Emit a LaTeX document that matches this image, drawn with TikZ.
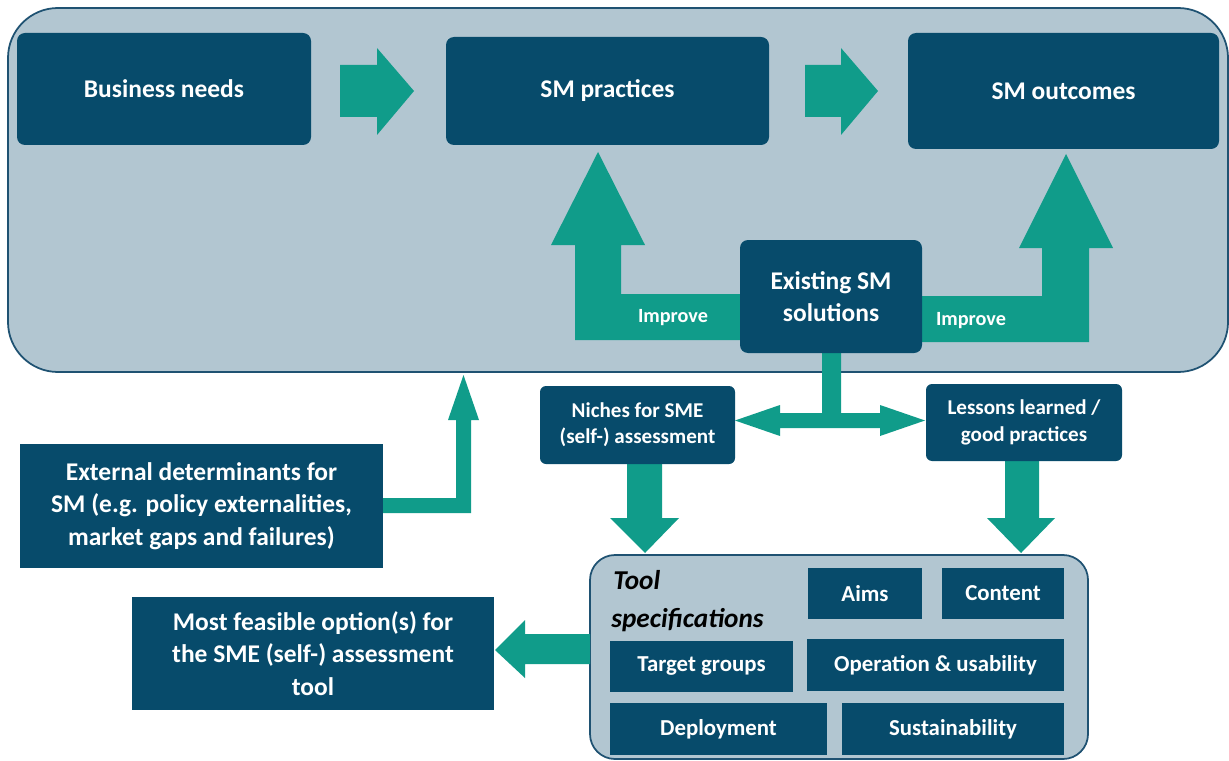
\documentclass[tikz,border=0pt]{standalone}
\usepackage{fontspec}
\setmainfont{Carlito}
\usetikzlibrary{calc}
\definecolor{dk}{HTML}{074B6B}
\definecolor{tl}{HTML}{109C8A}
\definecolor{bg}{HTML}{B2C6D1}
\definecolor{bd}{HTML}{1F5272}
\newcommand\bx[7]{\node[#6, minimum width={(#4-#2)*0.02cm}, minimum height={(#5-#3)*0.02cm}] (#1) at ({(#2+#4)/2},{(#3+#5)/2}) {#7};}
\tikzset{
  box/.style={fill=dk, text=white, inner sep=0pt, align=center, font=\bfseries\fontsize{14.5}{18.5}\selectfont},
  rbox/.style={box, rounded corners=0.16cm},
  mbox/.style={box, rounded corners=0.12cm, font=\bfseries\fontsize{12}{15}\selectfont},
  sbox/.style={box, font=\bfseries\fontsize{13}{15}\selectfont},
  arr/.style={fill=tl, draw=none},
  lbl/.style={text=white, inner sep=0pt, font=\bfseries\fontsize{11.5}{13}\selectfont},
  ttl/.style={text=black, inner sep=0pt, anchor=west, font=\bfseries\itshape\fontsize{15.5}{18}\selectfont}
}
\begin{document}
\begin{tikzpicture}[x=0.02cm,y=-0.02cm]
\useasboundingbox (0,0) rectangle (1229,760);
\fill[white] (0,0) rectangle (1229,760);
% big container
\draw[bd, line width=1pt, fill=bg, rounded corners=1.0cm] (8,8) rectangle (1228,372);
% top row arrows
\fill[arr] (340,65) -- (377,65) -- (377,48) -- (414,91) -- (377,135) -- (377,117) -- (340,117) -- cycle;
\fill[arr] (805,65) -- (841,65) -- (841,48) -- (878,91) -- (841,135) -- (841,117) -- (805,117) -- cycle;
% improve arrows
\fill[arr] (598,152) -- (645,245) -- (621,245) -- (621,294) -- (745,294) -- (745,340) -- (575,340) -- (575,245) -- (551,245) -- cycle;
\fill[arr] (1066,154) -- (1113,248) -- (1089,248) -- (1089,342) -- (918,342) -- (918,296) -- (1042,296) -- (1042,248) -- (1019,248) -- cycle;
% stem and double arrow
\fill[arr] (822,345) -- (841,345) -- (841,413) -- (880,413) -- (880,405) -- (925,420.5) -- (880,436) -- (880,428) -- (780,428) -- (780,436) -- (735,420.5) -- (780,405) -- (780,413) -- (822,413) -- cycle;
% top boxes
\bx{bn}{17}{33}{311}{145}{rbox}{Business needs}
\bx{sp}{446}{37}{769}{145}{rbox}{SM practices}
\bx{so}{908}{33}{1219}{149}{rbox}{SM outcomes}
\bx{es}{740}{240}{922}{353}{rbox}{Existing SM\\solutions}
\node[lbl] (i1) at (673,318) {Improve};
\node[lbl] (i2) at (971,321) {Improve};
% tool specs container
\draw[bd, line width=1pt, fill=bg, rounded corners=0.5cm] (590,555) rectangle (1088,759);
% down arrows
\fill[arr] (627,460) -- (662,460) -- (662,518) -- (679,518) -- (645,553) -- (610,518) -- (627,518) -- cycle;
\fill[arr] (1005,458) -- (1039,458) -- (1039,518) -- (1055,518) -- (1021,553) -- (987,518) -- (1005,518) -- cycle;
% niches & lessons
\bx{ni}{540}{386}{735}{464}{mbox}{Niches for SME\\(self-) assessment}
\bx{ll}{926}{384}{1122}{461}{mbox}{Lessons learned /\\good practices}
% external determinants arrow
\fill[arr] (383,498) -- (456,498) -- (456,420) -- (448,420) -- (463.5,375) -- (479,420) -- (471,420) -- (471,513) -- (383,513) -- cycle;
\bx{ed}{20}{444}{383}{568}{box}{External determinants for\\SM (e.g. policy externalities,\\market gaps and failures)}
% most feasible
\fill[arr] (590,634) -- (525,634) -- (525,620) -- (495,650) -- (525,678) -- (525,664) -- (590,664) -- cycle;
\bx{mf}{132}{597}{494}{710}{box}{Most feasible option(s) for\\the SME (self-) assessment\\tool}
% tool specs
\node[ttl] (t1) at (613,580) {Tool};
\node[ttl] (t2) at (611,620) {specifications};
\bx{am}{808}{568}{922}{619}{sbox}{Aims}
\bx{ct}{942}{568}{1064}{619}{sbox}{Content}
\bx{tg}{610}{641}{793}{692}{sbox}{Target groups}
\bx{ou}{807}{639}{1064}{691}{sbox}{Operation \& usability}
\bx{dp}{610}{703}{827}{755}{sbox}{Deployment}
\bx{su}{842}{703}{1064}{755}{sbox}{Sustainability}
\end{tikzpicture}
\end{document}
